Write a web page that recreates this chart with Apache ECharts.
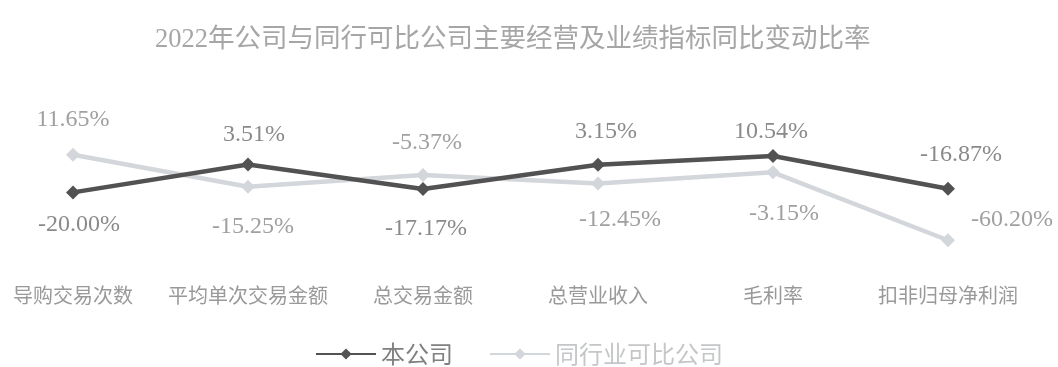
<!DOCTYPE html>
<html>
<head>
<meta charset="utf-8">
<script src="https://cdn.jsdelivr.net/npm/echarts@6/dist/echarts.min.js"></script>
<style>html,body{margin:0;padding:0;background:#fff;}#c{width:1058px;height:367px;}</style>
</head>
<body>
<div id="c"></div>
<script>
const titleText = '2022年公司与同行可比公司主要经营及业绩指标同比变动比率';
const categories = ['导购交易次数', '平均单次交易金额', '总交易金额', '总营业收入', '毛利率', '扣非归母净利润'];
const seriesNames = ['本公司', '同行业可比公司'];
const companyValues = [-20.00, 3.51, -17.17, 3.15, 10.54, -16.87];
const peerValues = [11.65, -15.25, -5.37, -12.45, -3.15, -60.20];

// label placement (styling): offsets of label centre from point, in px
const companyLabelOffsets = [[6, 32], [6, -30], [3, 40], [8, -33], [-2, -24], [13, -34]];
const peerLabelOffsets = [[0, -35], [5, 40], [4, -32], [22, 36], [11, 41], [64, -21]];

const serif = "'Liberation Serif', 'Noto Sans CJK SC', serif";
const cjk = "'Noto Sans CJK SC', sans-serif";

function buildData(values, offsets, color) {
  return values.map((v, i) => ({
    value: v,
    label: {
      show: true,
      position: 'inside',
      offset: offsets[i],
      formatter: (p) => p.value.toFixed(2) + '%',
      color: color,
      fontSize: 24,
      fontFamily: serif
    }
  }));
}

const chart = echarts.init(document.getElementById('c'), null, {renderer: 'canvas'});
chart.setOption({
  backgroundColor: '#ffffff',
  animation: false,
  title: {
    text: titleText,
    left: 150,
    top: 22,
    textStyle: {fontFamily: serif, fontSize: 26.5, fontWeight: 'normal', color: '#a6a6a6'}
  },
  legend: {
    left: 310,
    top: 337,
    itemWidth: 60,
    itemHeight: 14,
    itemGap: 36,
    data: [
      {name: seriesNames[0], textStyle: {color: '#808080'}},
      {name: seriesNames[1], textStyle: {color: '#c4c6c8'}}
    ],
    textStyle: {fontFamily: cjk, fontSize: 24}
  },
  grid: {left: 73, right: 110, top: 121, height: 142.8},
  xAxis: {
    type: 'category',
    data: categories,
    boundaryGap: false,
    axisLine: {show: false},
    axisTick: {show: false},
    splitLine: {show: false},
    axisLabel: {margin: 22, fontFamily: cjk, fontSize: 20, color: '#999999', interval: 0}
  },
  yAxis: {
    type: 'value',
    min: -80,
    max: 40,
    interval: 20,
    show: false,
    splitLine: {show: false}
  },
  series: [
    {
      name: seriesNames[1],
      type: 'line',
      data: buildData(peerValues, peerLabelOffsets, '#a0a0a0'),
      symbol: 'diamond',
      symbolSize: 14,
      lineStyle: {color: '#d3d6da', width: 4.5},
      itemStyle: {color: '#d3d6da'},
      z: 2
    },
    {
      name: seriesNames[0],
      type: 'line',
      data: buildData(companyValues, companyLabelOffsets, '#8a8a8a'),
      symbol: 'diamond',
      symbolSize: 14,
      lineStyle: {color: '#525252', width: 4.5},
      itemStyle: {color: '#525252'},
      z: 3
    }
  ]
});
</script>
</body>
</html>
